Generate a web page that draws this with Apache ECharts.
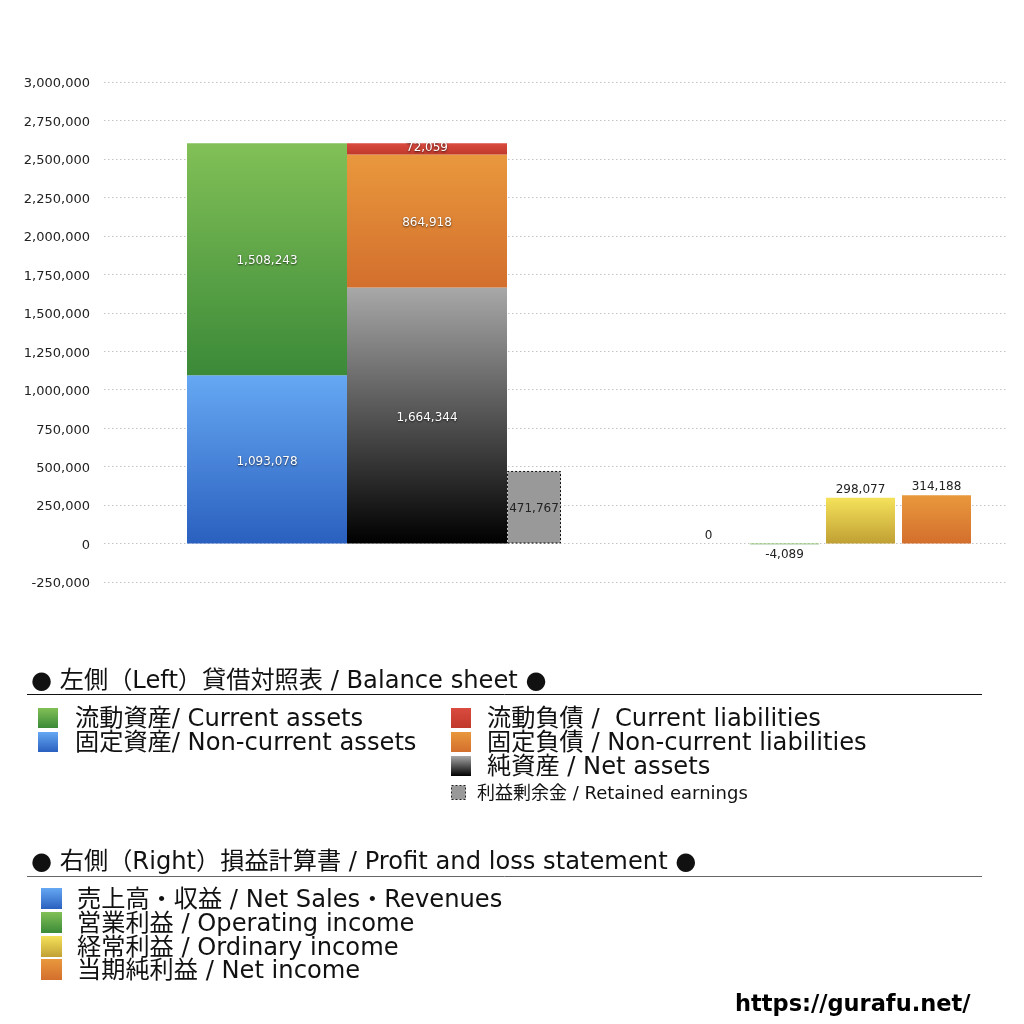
<!DOCTYPE html>
<html><head><meta charset="utf-8">
<script src="https://cdn.jsdelivr.net/npm/echarts@6/dist/echarts.min.js"></script>
<style>html,body{margin:0;padding:0;background:#fff}#c{width:1024px;height:1024px}</style>
</head><body><div id="c"></div>
<script>
// ---- data ----
const yTicks = { min: -250000, max: 3000000, interval: 250000 };
const bsCategory = ['貸借対照表'];
const nonCurrentAssets = [1093078];
const currentAssets = [1508243];
const netAssets = [1664344];
const nonCurrentLiabilities = [864918];
const currentLiabilities = [72059];
const retainedEarnings = [471767];
const plCategories = ['売上高・収益', '営業利益', '経常利益', '当期純利益'];
const plValues = [0, -4089, 298077, 314188];

const fmt = v => Number(v).toLocaleString('en-US');
const grad = (a, b) => new echarts.graphic.LinearGradient(0, 0, 0, 1, [{offset: 0, color: a}, {offset: 1, color: b}]);
const C = {
  green: ['#82c057', '#3b8a38'],
  blue: ['#66a8f3', '#2a60bf'],
  red: ['#da4b40', '#c0392a'],
  orange: ['#e9983d', '#d36f2d'],
  black: ['#a8a8a8', '#000000'],
  yellow: ['#f5e25a', '#c0a034']
};
const plColors = [C.blue, C.green, C.yellow, C.orange];
const FONT = '"DejaVu Sans", "Noto Sans CJK JP", sans-serif';

const whiteLabel = {
  show: true, position: 'inside', color: '#fff', fontSize: 12, fontFamily: FONT,
  textShadowColor: 'rgba(0,0,0,0.7)', textShadowBlur: 2, textShadowOffsetX: 0, textShadowOffsetY: 1,
  offset: [0, 2],
  formatter: p => fmt(p.value)
};

const chart = echarts.init(document.getElementById('c'), null, {renderer: 'canvas'});

const gridTop = 82, gridBottom = 442;
const yBase = Object.assign({type: 'value'}, yTicks);

// legend graphics
const g = [];
const LF = '24.2px ' + FONT;
const dy = 2;
// heading 1
g.push({type: 'text', x: 31, y: 680 + dy, style: {text: '● 左側（Left）貸借対照表 / Balance sheet ●', font: LF, fill: '#111', verticalAlign: 'middle'}});
g.push({type: 'line', shape: {x1: 27, y1: 694.5, x2: 982, y2: 694.5}, style: {stroke: '#111', lineWidth: 1}});
const leftItems = [
  [C.green, '流動資産/ Current assets', 718],
  [C.blue, '固定資産/ Non-current assets', 742]
];
leftItems.forEach(it => {
  g.push({type: 'rect', shape: {x: 38, y: it[2] - 10, width: 20, height: 20}, style: {fill: grad(it[0][0], it[0][1])}});
  g.push({type: 'text', x: 75, y: it[2] + dy, style: {text: it[1], font: LF, fill: '#111', verticalAlign: 'middle'}});
});
const rightItems = [
  [C.red, '流動負債 /  Current liabilities', 718],
  [C.orange, '固定負債 / Non-current liabilities', 742],
  [C.black, '純資産 / Net assets', 766]
];
rightItems.forEach(it => {
  g.push({type: 'rect', shape: {x: 451, y: it[2] - 10, width: 20, height: 20}, style: {fill: grad(it[0][0], it[0][1])}});
  g.push({type: 'text', x: 487, y: it[2] + dy, style: {text: it[1], font: LF, fill: '#111', verticalAlign: 'middle'}});
});
g.push({type: 'rect', shape: {x: 451.5, y: 785.5, width: 14, height: 14}, style: {fill: '#999', stroke: '#222', lineWidth: 1, lineDash: [2, 2]}});
g.push({type: 'text', x: 477, y: 794, style: {text: '利益剰余金 / Retained earnings', font: '18px ' + FONT, fill: '#111', verticalAlign: 'middle'}});
// heading 2
g.push({type: 'text', x: 31, y: 861 + dy, style: {text: '● 右側（Right）損益計算書 / Profit and loss statement ●', font: LF, fill: '#111', verticalAlign: 'middle'}});
g.push({type: 'line', shape: {x1: 27, y1: 876.5, x2: 982, y2: 876.5}, style: {stroke: '#666', lineWidth: 1}});
const plLegend = [
  [C.blue, '売上高・収益 / Net Sales・Revenues', 899],
  [C.green, '営業利益 / Operating income', 923],
  [C.yellow, '経常利益 / Ordinary income', 947],
  [C.orange, '当期純利益 / Net income', 970]
];
plLegend.forEach(it => {
  g.push({type: 'rect', shape: {x: 41, y: it[2] - 11, width: 21, height: 21}, style: {fill: grad(it[0][0], it[0][1])}});
  g.push({type: 'text', x: 77, y: it[2] + dy, style: {text: it[1], font: LF, fill: '#111', verticalAlign: 'middle'}});
});
g.push({type: 'text', x: 735, y: 1005, style: {text: 'https://gurafu.net/', font: 'bold 22.5px ' + FONT, fill: '#000', verticalAlign: 'middle'}});

const hiddenY = gi => Object.assign({}, yBase, {gridIndex: gi, show: false, splitLine: {show: false}});

chart.setOption({
  backgroundColor: '#fff',
  animation: false,
  grid: [
    {left: 104, right: 17, top: gridTop, bottom: gridBottom},
    {left: 187, width: 374, top: gridTop, bottom: gridBottom},
    {left: 670.5, width: 304, top: gridTop, bottom: gridBottom}
  ],
  xAxis: [
    {gridIndex: 0, type: 'value', min: 0, max: 1, show: false},
    {gridIndex: 1, type: 'category', data: bsCategory, show: false},
    {gridIndex: 2, type: 'category', data: plCategories, show: false}
  ],
  yAxis: [
    Object.assign({}, yBase, {
      gridIndex: 0,
      axisLine: {show: false}, axisTick: {show: false},
      axisLabel: {color: '#222', fontSize: 13, fontFamily: FONT, margin: 14,
        formatter: v => '{a|' + fmt(v) + '}',
        rich: {a: {color: '#222', fontSize: 13, fontFamily: FONT, padding: [4, 0, 0, 0]}}},
      splitLine: {show: true, lineStyle: {type: [1.5, 2.5], color: '#c4c4c4', width: 1}}
    }),
    hiddenY(1),
    hiddenY(2)
  ],
  series: [
    {name: '固定資産', type: 'bar', xAxisIndex: 1, yAxisIndex: 1, stack: 'assets', barWidth: 160, barGap: '0%',
     data: nonCurrentAssets, itemStyle: {color: grad(C.blue[0], C.blue[1])}, label: whiteLabel},
    {name: '流動資産', type: 'bar', xAxisIndex: 1, yAxisIndex: 1, stack: 'assets', barWidth: 160, barGap: '0%',
     data: currentAssets, itemStyle: {color: grad(C.green[0], C.green[1])}, label: whiteLabel},
    {name: '純資産', type: 'bar', xAxisIndex: 1, yAxisIndex: 1, stack: 'liab', barWidth: 160, barGap: '0%',
     data: netAssets, itemStyle: {color: grad(C.black[0], C.black[1])}, label: whiteLabel},
    {name: '固定負債', type: 'bar', xAxisIndex: 1, yAxisIndex: 1, stack: 'liab', barWidth: 160, barGap: '0%',
     data: nonCurrentLiabilities, itemStyle: {color: grad(C.orange[0], C.orange[1])}, label: whiteLabel},
    {name: '流動負債', type: 'bar', xAxisIndex: 1, yAxisIndex: 1, stack: 'liab', barWidth: 160, barGap: '0%',
     data: currentLiabilities, itemStyle: {color: grad(C.red[0], C.red[1])}, label: Object.assign({}, whiteLabel, {offset: [0, -1]})},
    {name: '利益剰余金', type: 'bar', xAxisIndex: 1, yAxisIndex: 1, stack: 'ret', barWidth: 54, barGap: '0%',
     data: retainedEarnings, itemStyle: {color: '#999999', borderColor: '#111', borderWidth: 1, borderType: [2, 2]},
     label: {show: true, position: 'inside', color: '#222', fontSize: 12, fontFamily: FONT, offset: [0, 2], formatter: p => fmt(p.value)}},
    {name: '損益計算書', type: 'bar', xAxisIndex: 2, yAxisIndex: 2, barWidth: 69,
     data: plValues.map((v, i) => ({
       value: v,
       itemStyle: {color: grad(plColors[i][0], plColors[i][1])},
       label: {position: v < 0 ? 'bottom' : 'top', offset: v < 0 ? [0, 1] : [0, 2]}
     })),
     label: {show: true, color: '#222', fontSize: 12, fontFamily: FONT, distance: 4, formatter: p => fmt(p.value)}}
  ],
  graphic: g
});
</script>
</body></html>
